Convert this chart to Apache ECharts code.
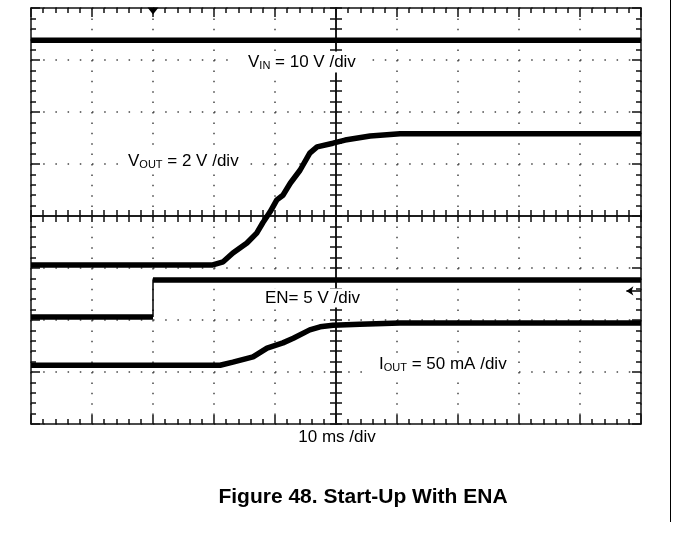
<!DOCTYPE html>
<html>
<head>
<meta charset="utf-8">
<title>Start-Up With ENA</title>
<script src="https://cdn.jsdelivr.net/npm/echarts@6/dist/echarts.min.js"></script>
<style>
  html, body { margin: 0; padding: 0; background: #fff; }
  #mChart { width: 673px; height: 538px; }
</style>
</head>
<body>
<div id="mChart"></div>
<script>
  // time in ms (10 ms/div), level in screen divisions (0 = centre line, +-4 = edges)
  let vinTime  = [0, 100];
  let vinLevel = [3.38, 3.38];

  let voutTime  = [0, 29.8, 31.5, 33.1, 35.4, 37.0, 38.0, 39.2, 40.3, 41.3, 42.5, 44.1, 45.7, 46.9, 49.5, 51.5, 55.6, 60.5, 100];
  let voutLevel = [-0.94, -0.94, -0.88, -0.71, -0.52, -0.33, -0.13, 0.08, 0.31, 0.40, 0.63, 0.88, 1.21, 1.33, 1.40, 1.46, 1.54, 1.58, 1.58];

  // EN: low before the trigger, high after it ('-' breaks the thick trace at the edge)
  let enTime  = [0, 20, 20, 20, 100];
  let enLevel = [-1.94, -1.94, '-', -1.23, -1.23];
  let enEdgeTime  = [20, 20];
  let enEdgeLevel = [-1.94, -1.23];

  let ioutTime  = [0, 31.0, 33.1, 36.4, 38.7, 41.3, 43.0, 45.7, 47.4, 49.5, 53.9, 60.5, 100];
  let ioutLevel = [-2.87, -2.87, -2.81, -2.71, -2.54, -2.44, -2.35, -2.19, -2.13, -2.10, -2.08, -2.06, -2.06];

  let triggerTime = 20;
  let enRefLevel = -1.44;

  let vinLabel  = '{m|V}{s|IN}{m| = 10 V /div}';
  let voutLabel = '{m|V}{s|OUT}{m| = 2 V /div}';
  let enLabel   = '{m|EN= 5 V /div}';
  let ioutLabel = '{m|I}{s|OUT}{m| = 50 mA /div}';
  let timeLabel = '10 ms /div';
  let captionText = 'Figure 48. Start-Up With ENA';

  const FONT = '"Liberation Sans", Arial, sans-serif';
  const INK = '#111';

  function pairs(xs, ys) {
    return xs.map((x, i) => [x, ys[i]]);
  }

  // scope axis with inward ticks, minor ticks every 1/5 div
  function scopeAxis(gridIndex, position, min, max, tickLen, minorLen, split) {
    return {
      type: 'value', gridIndex: gridIndex, position: position,
      min: min, max: max, interval: (max - min) > 10 ? 10 : 1,
      axisLine: { show: true, onZero: false, lineStyle: { color: INK, width: 1.5 } },
      axisTick: { show: true, inside: true, length: tickLen, lineStyle: { color: INK, width: 1.5 } },
      minorTick: { show: true, splitNumber: 5, length: minorLen, lineStyle: { color: INK, width: 1.5 } },
      axisLabel: { show: false },
      splitLine: split ? { show: true, lineStyle: { color: '#444', width: 1.5, type: split } } : { show: false }
    };
  }
  function hiddenAxis(gridIndex, min, max) {
    return { type: 'value', gridIndex: gridIndex, min: min, max: max, show: false };
  }

  const labelRich = {
    m: { fontSize: 17, fontFamily: FONT, color: '#000' },
    s: { fontSize: 11, fontFamily: FONT, color: '#000', padding: [8, 0, 0, 0] }
  };
  function chLabel(text, x, y) {
    return {
      type: 'text', x: x, y: y, z: 50,
      style: { text: text, rich: labelRich, verticalAlign: 'middle', backgroundColor: '#fff', padding: [1, 10] }
    };
  }

  const trace = { color: '#000', width: 5.5 };

  let myChart = echarts.init(document.getElementById('mChart'));
  myChart.setOption({
    animation: false,
    backgroundColor: '#fff',
    grid: [
      { left: 31, top: 8, width: 610, height: 416 },   // full screen
      { left: 31, top: 8, width: 610, height: 208 },   // upper half -> centre x line ticks up
      { left: 31, top: 216, width: 610, height: 208 }, // lower half -> centre x line ticks down
      { left: 31, top: 8, width: 305, height: 416 },   // left half -> centre y line ticks left
      { left: 336, top: 8, width: 305, height: 416 }   // right half -> centre y line ticks right
    ],
    xAxis: [
      scopeAxis(0, 'bottom', 0, 100, 9, 5, [1.5, 8.9]),
      scopeAxis(0, 'top', 0, 100, 9, 5, null),
      scopeAxis(1, 'bottom', 0, 100, 6, 6, null),
      scopeAxis(2, 'top', 0, 100, 6, 6, null),
      hiddenAxis(3, 0, 50),
      hiddenAxis(4, 50, 100)
    ],
    yAxis: [
      scopeAxis(0, 'left', -4, 4, 9, 5, [1.5, 10.7]),
      scopeAxis(0, 'right', -4, 4, 9, 5, null),
      hiddenAxis(1, 0, 4),
      hiddenAxis(2, -4, 0),
      scopeAxis(3, 'right', -4, 4, 6, 6, null),
      scopeAxis(4, 'left', -4, 4, 6, 6, null)
    ],
    series: [
      { name: 'VIN', type: 'line', showSymbol: false, data: pairs(vinTime, vinLevel), lineStyle: trace },
      { name: 'VOUT', type: 'line', showSymbol: false, data: pairs(voutTime, voutLevel), lineStyle: trace },
      { name: 'EN', type: 'line', showSymbol: false, connectNulls: false, data: pairs(enTime, enLevel), lineStyle: trace,
        markPoint: {
          silent: true, symbol: 'triangle', symbolSize: [11, 7], symbolRotate: 180, symbolOffset: [0, 3],
          itemStyle: { color: '#000' }, label: { show: false },
          data: [{ coord: [triggerTime, 4] }]
        },
        markLine: {
          silent: true, symbol: ['none', 'arrow'], symbolSize: 7,
          lineStyle: { color: '#000', width: 1.5, type: 'solid' }, label: { show: false },
          data: [[{ coord: [100, enRefLevel] }, { coord: [97.6, enRefLevel] }]]
        } },
      { name: 'EN edge', type: 'line', showSymbol: false, data: pairs(enEdgeTime, enEdgeLevel),
        lineStyle: { color: '#000', width: 1.5 } },
      { name: 'IOUT', type: 'line', showSymbol: false, data: pairs(ioutTime, ioutLevel), lineStyle: trace }
    ],
    graphic: [
      chLabel(vinLabel, 238, 62),
      chLabel(voutLabel, 118, 161),
      chLabel(enLabel, 255, 298),
      chLabel(ioutLabel, 369, 364),
      { type: 'text', x: 337, y: 437, z: 50,
        style: { text: timeLabel, font: '17px ' + FONT, fill: '#000', align: 'center', verticalAlign: 'middle' } },
      { type: 'text', x: 363, y: 497, z: 50,
        style: { text: captionText, font: 'bold 21px ' + FONT, fill: '#000', align: 'center', verticalAlign: 'middle' } },
      { type: 'line', z: 50, shape: { x1: 670.5, y1: 0, x2: 670.5, y2: 522 }, style: { stroke: '#000', lineWidth: 1 } }
    ]
  });
</script>
</body>
</html>
